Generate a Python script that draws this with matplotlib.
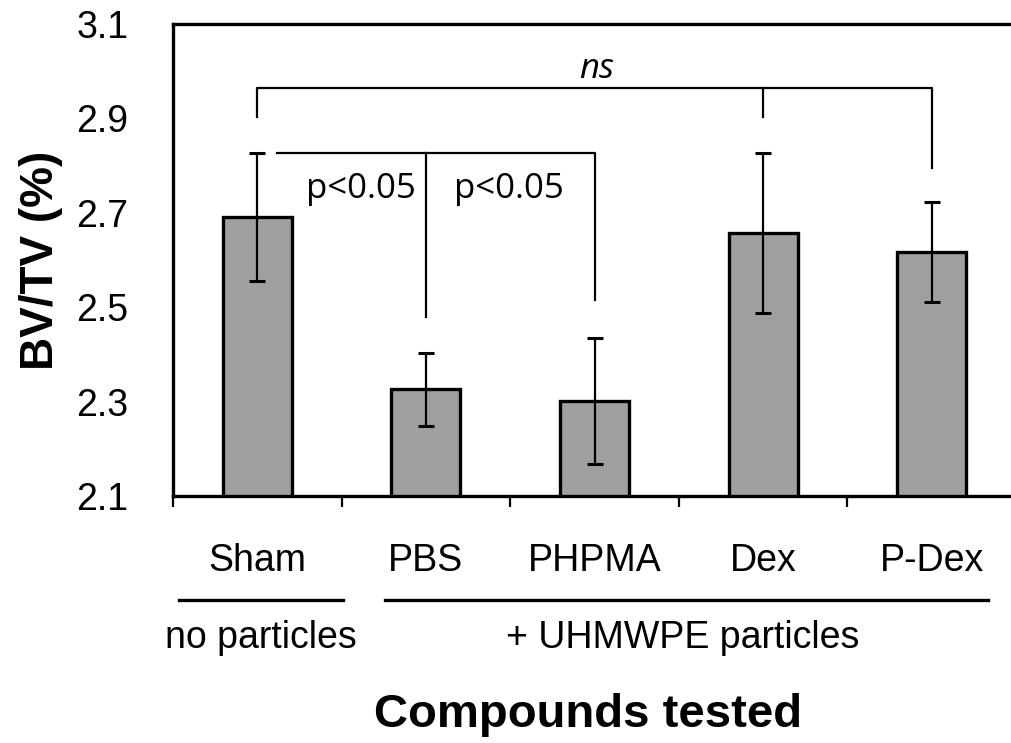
import matplotlib
matplotlib.use('Agg')
import matplotlib.pyplot as plt
import matplotlib.transforms as mtransforms

# values
groups = ['Sham', 'PBS', 'PHPMA', 'Dex', 'P-Dex']
bv_tv = [2.691, 2.326, 2.301, 2.657, 2.617]
bv_tv_err = [0.136, 0.078, 0.134, 0.169, 0.106]
y_ticks = [2.1, 2.3, 2.5, 2.7, 2.9, 3.1]

plt.rcParams['font.family'] = ['Liberation Sans', 'DejaVu Sans']

fig = plt.figure(figsize=(10.11, 7.43), dpi=100)
ax = fig.add_axes([173 / 1011, 247 / 743, 843 / 1011, 472 / 743])

x = list(range(len(groups)))
ax.bar(x, bv_tv, width=0.41, color='#a0a0a0', edgecolor='black', linewidth=2.4,
       bottom=0, zorder=2)
ax.errorbar(x, bv_tv, yerr=bv_tv_err, fmt='none', ecolor='black',
            elinewidth=1.6, capsize=5.5, capthick=2.2, zorder=3)

ax.set_ylim(2.1, 3.1)
ax.set_xlim(-0.5, 4.5)
ax.set_yticks(y_ticks)
ax.set_yticklabels([f'{v:.1f}' for v in y_ticks], fontsize=27)
ax.tick_params(axis='y', length=0, pad=32)

# category boundaries as ticks, names as minor ticks in the middle
ax.set_xticks([i - 0.5 for i in range(len(groups) + 1)])
ax.set_xticklabels([])
ax.tick_params(axis='x', which='major', direction='out', length=8, width=1.6)
ax.set_xticks(x, minor=True)
ax.set_xticklabels(groups, minor=True, fontsize=27)
ax.tick_params(axis='x', which='minor', length=0, pad=34)

for side in ['left', 'top', 'bottom']:
    ax.spines[side].set_linewidth(2.4)
ax.spines['right'].set_visible(False)

ax.set_ylabel('BV/TV (%)', fontsize=33, fontweight='bold', labelpad=10)

# significance brackets
bk = dict(color='black', linewidth=1.6, clip_on=False, zorder=4)
ax.plot([0, 0, 4, 4], [2.903, 2.964, 2.964, 2.795], **bk)
ax.plot([3, 3], [2.964, 2.903], **bk)
ax.plot([0.116, 2, 2], [2.827, 2.827, 2.515], **bk)
ax.plot([1, 1], [2.827, 2.479], **bk)

sig_font = ['Open Sans', 'DejaVu Sans']
ax.text(2.01, 2.986, 'ns', fontsize=25, style='italic', family=sig_font,
        ha='center', va='baseline')
ax.text(0.614, 2.731, 'p<0.05', fontsize=25, family=sig_font,
        ha='center', va='baseline')
ax.text(1.49, 2.731, 'p<0.05', fontsize=25, family=sig_font,
        ha='center', va='baseline')

# group annotation under the axis
trans = mtransforms.blended_transform_factory(ax.transData, ax.transAxes)
ax.plot([-0.466, 0.506], [-0.220, -0.220], color='black', linewidth=2.4,
        transform=trans, clip_on=False)
ax.plot([0.757, 4.335], [-0.220, -0.220], color='black', linewidth=2.4,
        transform=trans, clip_on=False)
ax.text(0.02, -0.322, 'no particles', fontsize=27, ha='center', va='baseline',
        transform=trans)
ax.text(2.525, -0.322, '+ UHMWPE particles', fontsize=27, ha='center',
        va='baseline', transform=trans)
ax.text(1.96, -0.489, 'Compounds tested', fontsize=34, fontweight='bold',
        ha='center', va='baseline', transform=trans)

fig.savefig('out.png', dpi=100)
